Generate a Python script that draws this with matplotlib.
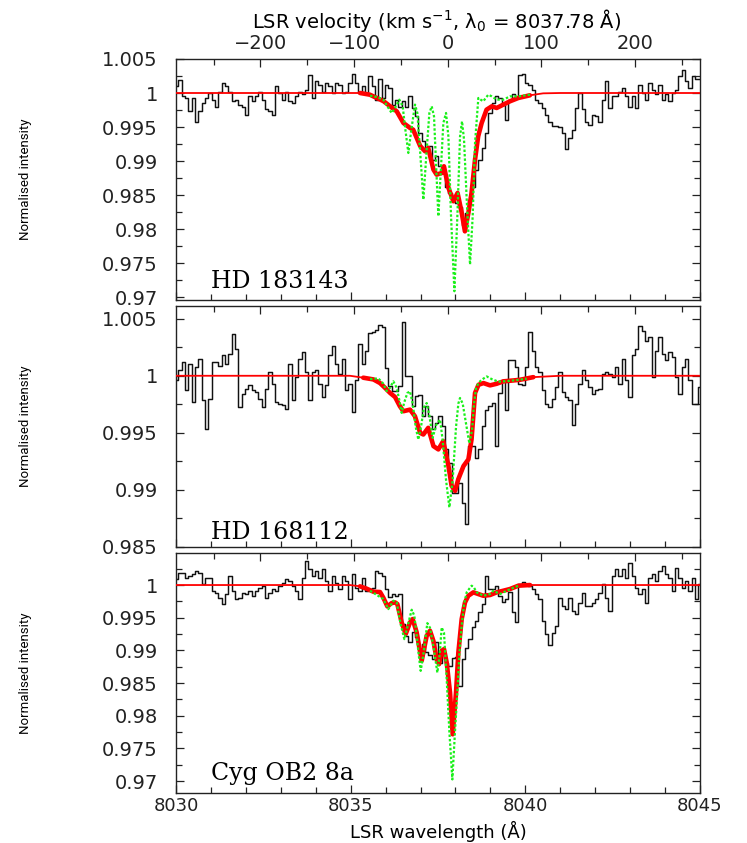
import numpy as np
import matplotlib
matplotlib.use("Agg")
import matplotlib.pyplot as plt
from matplotlib import font_manager as fm
from matplotlib.ticker import MultipleLocator, FuncFormatter, NullFormatter

LAMBDA0 = 8037.78
C_KMS = 299792.458

star_names = ["HD 183143", "HD 168112", "Cyg OB2 8a"]

# ---------------- observed spectra (uniform wavelength bins 8030.02 - 8045.0 A)
obs1 = [1.0010, 1.0019, 0.9995, 0.9993, 0.9973, 0.9993, 0.9958, 0.9973, 0.9985, 0.9993,
        1.0000, 0.9990, 0.9980, 1.0002, 1.0015, 1.0010, 1.0002, 0.9988, 0.9990, 0.9983,
        0.9980, 0.9967, 0.9995, 0.9988, 0.9995, 1.0002, 0.9990, 0.9976, 0.9973, 0.9968,
        1.0011, 1.0000, 0.9990, 1.0002, 0.9988, 0.9985, 0.9995, 1.0001, 0.9998, 1.0005,
        1.0027, 0.9993, 1.0017, 1.0012, 1.0002, 1.0015, 1.0010, 1.0000, 1.0015, 1.0012,
        1.0000, 1.0002, 1.0015, 1.0028, 1.0015, 1.0000, 1.0010, 1.0000, 1.0025, 1.0010,
        0.9990, 1.0020, 0.9993, 1.0012, 1.0007, 0.9983, 0.9990, 0.9980, 0.9988, 0.9980,
        0.9995, 0.9978, 0.9966, 0.9941, 0.9929, 0.9917, 0.9922, 0.9902, 0.9907,
        0.9892, 0.9882, 0.9862, 0.9853, 0.9843, 0.9838, 0.9833, 0.9806, 0.9824, 0.9843,
        0.9862, 0.9887, 0.9902, 0.9919, 0.9941, 0.9971, 0.9985, 0.9995, 0.9993, 0.9983,
        0.9961, 0.9990, 0.9998, 0.9993,
        1.0027, 1.0028, 1.0015, 1.0012, 1.0005, 0.9990, 0.9985, 0.9978, 0.9968, 0.9958,
        0.9952, 0.9952, 0.9950, 0.9941, 0.9917, 0.9934, 0.9946, 0.9978, 1.0000, 0.9976,
        0.9958, 0.9953, 0.9968, 0.9966, 0.9958, 0.9990, 1.0017, 0.9978, 0.9995, 0.9995,
        1.0002, 1.0007, 0.9995, 0.9980, 0.9995, 0.9978, 1.0012, 1.0000, 0.9990, 1.0015,
        1.0005, 0.9998, 1.0012, 0.9990, 0.9998, 0.9988, 1.0000, 1.0005, 1.0025, 1.0034,
        1.0017, 1.0007, 1.0025, 1.0020, 1.0020]

obs2 = [0.99959, 1.00047, 1.00119, 0.99872, 1.00105, 0.99770, 1.00076, 1.00148, 0.99785, 0.99537,
        0.99799, 1.00119, 1.00119, 1.00090, 1.00178, 1.00105, 1.00192, 1.00367, 1.00236, 0.99726,
        0.99843, 0.99887, 0.99916, 0.99872, 0.99857, 0.99799, 0.99726, 0.99887, 1.00032, 0.99930,
        0.99770, 0.99756, 0.99741, 0.99712, 1.00105, 0.99785, 0.99988, 1.00148, 1.00207, 1.00032,
        0.99785, 1.00032, 1.00047, 0.99930, 0.99814, 0.99916, 1.00178, 1.00265, 1.00105, 1.00017,
        1.00148, 0.99872, 0.99930, 0.99683, 0.99959, 1.00279, 1.00105, 1.00221,
        1.00372, 1.00387, 1.00402, 1.00445, 1.00431, 1.00067, 0.99907, 0.99863, 0.99863, 0.99907,
        1.00474, 0.99994, 0.99994, 0.99732, 0.99820, 0.99834, 0.99645, 0.99732, 0.99645, 0.99529,
        0.99587, 0.99645, 0.99558, 0.99354, 0.99238, 0.98976, 0.98976, 0.99063, 0.98888, 0.98699,
        0.99383, 0.99383, 0.99281, 0.99354, 0.99558, 0.99703, 0.99732, 0.99761, 0.99383, 0.99849,
        0.99965, 0.99703, 1.00140, 1.00140, 1.00081,
        0.99930, 0.99916, 1.00076, 1.00381, 1.00221, 1.00076, 1.00032, 0.99872, 0.99756, 0.99726,
        0.99799, 0.99901, 1.00032, 0.99857, 0.99814, 0.99785, 0.99566, 0.99756, 0.99930, 1.00047,
        0.99959, 0.99901, 0.99843, 0.99872, 0.99887, 1.00017, 1.00032, 1.00017, 0.99988, 1.00076,
        0.99930, 1.00148, 0.99959, 0.99814, 1.00178, 1.00236, 1.00439, 1.00396, 1.00308, 1.00337,
        0.99988, 1.00221, 1.00337, 1.00192, 1.00134, 1.00207, 1.00163, 0.99988, 0.99843, 1.00076,
        1.00148, 0.99959, 0.99756, 0.99756, 0.99901]

obs3 = [1.00087, 1.00189, 1.00189, 1.00112, 1.00138, 1.00164, 1.00215, 1.00189, 1.00010, 1.00112,
        1.00112, 0.99908, 0.99882, 0.99806, 0.99704, 0.99857, 1.00138, 0.99908, 0.99780, 0.99806,
        0.99882, 0.99857, 0.99908, 0.99831, 0.99908, 0.99959, 0.99985, 0.99806, 0.99882, 0.99934,
        0.99908, 0.99985, 1.00036, 1.00087, 1.00061, 0.99985, 0.99908, 0.99780, 1.00112, 1.00368,
        1.00240, 1.00138, 1.00215, 1.00112, 1.00240, 1.00061, 0.99908, 1.00138, 1.00036, 0.99934,
        1.00138, 1.00061, 0.99780, 1.00164, 0.99959, 0.99908, 1.00112, 0.99908,
        0.99939, 0.99949, 1.00220, 1.00184, 1.00143, 0.99939, 0.99811, 0.99862, 0.99836, 0.99862,
        0.99402, 0.99223, 0.99121, 0.99274, 0.99198, 0.99019, 0.99096, 0.98968, 0.98927, 0.98866,
        0.99121, 0.98814, 0.98968, 0.98814, 0.98763, 0.98876, 0.98901, 0.98457, 0.98866, 0.99044,
        0.99172, 0.99351, 0.99453, 0.99581, 0.99709, 1.00143, 0.99939, 0.99939, 0.99990, 0.99836,
        0.99734, 0.99785, 0.99888, 0.99581, 0.99428,
        1.00020, 1.00051, 1.00020, 0.99985, 0.99934, 0.99857, 0.99780, 0.99448, 0.99254, 0.99090,
        0.99269, 0.99371, 0.99806, 0.99678, 0.99627, 0.99806, 0.99601, 0.99550, 0.99729, 0.99882,
        0.99678, 0.99678, 0.99729, 0.99780, 0.99882, 1.00010, 0.99806, 0.99601, 1.00138, 1.00240,
        1.00138, 1.00240, 1.00112, 1.00342, 1.00138, 0.99959, 0.99857, 0.99934, 0.99729, 1.00112,
        1.00164, 1.00061, 1.00215, 1.00291, 1.00164, 1.00112, 0.99908, 1.00266, 1.00112, 0.99959,
        1.00061, 0.99908, 1.00112, 0.99780, 1.00010]

# ---------------- convolved model (red)
red1_lam = [8030.0, 8035.27, 8035.55, 8035.94, 8036.32, 8036.51, 8036.70, 8036.79, 8036.99, 8037.13,
            8037.22, 8037.37, 8037.46, 8037.61, 8037.67, 8037.80, 8037.94, 8038.06, 8038.18, 8038.27,
            8038.37, 8038.46, 8038.56, 8038.65, 8038.75, 8038.89, 8039.04, 8039.18, 8039.37, 8039.56,
            8039.80, 8040.13, 8040.51, 8041.0, 8045.0]
red1_val = [1.0, 1.0, 0.99975, 0.9988, 0.9973, 0.99559, 0.99486, 0.9946, 0.9922, 0.99143,
            0.99192, 0.98873, 0.988, 0.98824, 0.98922, 0.98604, 0.98408, 0.9853, 0.98236, 0.97966,
            0.98236, 0.9853, 0.9902, 0.99363, 0.99559, 0.99755, 0.99804, 0.9978, 0.99829, 0.99878,
            0.99927, 0.99966, 0.99995, 1.0, 1.0]

red2_lam = [8030.0, 8034.98, 8035.36, 8035.65, 8035.84, 8035.98, 8036.13, 8036.27, 8036.41, 8036.51,
            8036.70, 8036.84, 8036.99, 8037.08, 8037.22, 8037.37, 8037.51, 8037.65, 8037.80, 8037.89,
            8037.99, 8038.08, 8038.23, 8038.37, 8038.46, 8038.56, 8038.66, 8038.80, 8038.99, 8039.18,
            8039.37, 8039.66, 8039.85, 8040.23, 8041.0, 8045.0]
red2_val = [1.0, 1.0, 0.99983, 0.99968, 0.99936, 0.99895, 0.99849, 0.99814, 0.99732, 0.99689,
            0.99703, 0.99645, 0.99499, 0.99485, 0.99543, 0.99383, 0.99354, 0.99427, 0.99208, 0.99034,
            0.98990, 0.99092, 0.99208, 0.99267, 0.99441, 0.99849, 0.99921, 0.99936, 0.99916, 0.99930,
            0.99951, 0.99959, 0.99965, 0.99988, 1.0, 1.0]

red3_lam = [8030.0, 8034.981, 8035.267, 8035.458, 8035.649, 8035.840, 8035.935, 8036.050, 8036.174, 8036.270,
            8036.336, 8036.460, 8036.575, 8036.699, 8036.775, 8036.890, 8037.033, 8037.176, 8037.271, 8037.367,
            8037.462, 8037.529, 8037.605, 8037.672, 8037.749, 8037.844, 8037.920, 8038.016, 8038.083, 8038.178,
            8038.273, 8038.369, 8038.512, 8038.655, 8038.798, 8038.989, 8039.180, 8039.371, 8039.562, 8039.800,
            8040.134, 8045.0]
red3_val = [1.0, 1.0, 0.99980, 0.99944, 0.99898, 0.99893, 0.99806, 0.99673, 0.99724, 0.99734,
            0.99709, 0.99428, 0.99249, 0.99428, 0.99479, 0.99274, 0.98840, 0.99223, 0.99300, 0.99147,
            0.98866, 0.98789, 0.98993, 0.99019, 0.98814, 0.98355, 0.97716, 0.98355, 0.98968, 0.99479,
            0.99734, 0.99836, 0.99888, 0.99862, 0.99836, 0.99847, 0.99888, 0.99913, 0.99939, 0.99990,
            1.0, 1.0]

# ---------------- intrinsic model (green dotted)
grn1_lam = [8035.554, 8035.745, 8035.935, 8036.050, 8036.174, 8036.270, 8036.394, 8036.489, 8036.566, 8036.651,
            8036.737, 8036.842, 8036.909, 8036.985, 8037.081, 8037.176, 8037.253, 8037.320, 8037.386, 8037.443,
            8037.510, 8037.587, 8037.653, 8037.730, 8037.797, 8037.873, 8037.969, 8038.054, 8038.131, 8038.188,
            8038.245, 8038.322, 8038.417, 8038.493, 8038.560, 8038.655, 8038.722, 8038.798, 8038.865, 8038.941,
            8039.037, 8039.180, 8039.371, 8039.562, 8039.800, 8040.134]
grn1_val = [0.99961, 0.99941, 0.99902, 0.99804, 0.99706, 0.99780, 0.99902, 0.99804, 0.99461, 0.99118,
            0.99461, 0.99829, 0.99706, 0.99167, 0.98432, 0.99167, 0.99706, 0.99804, 0.99657, 0.98971,
            0.98187, 0.98922, 0.99559, 0.99706, 0.99363, 0.98187, 0.97085, 0.98187, 0.99363, 0.99584,
            0.99314, 0.98432, 0.97477, 0.98187, 0.99265, 0.99927, 0.99902, 0.99878, 0.99927, 0.99975,
            0.99951, 0.99902, 0.99902, 0.99951, 0.99951, 0.99975]

grn2_lam = [8035.554, 8035.792, 8035.935, 8036.031, 8036.126, 8036.222, 8036.317, 8036.394, 8036.460, 8036.537,
            8036.623, 8036.699, 8036.775, 8036.861, 8036.937, 8037.014, 8037.100, 8037.176, 8037.252, 8037.348,
            8037.443, 8037.558, 8037.634, 8037.730, 8037.825, 8037.920, 8038.016, 8038.083, 8038.130, 8038.207,
            8038.302, 8038.398, 8038.474, 8038.531, 8038.588, 8038.655, 8038.751, 8038.894, 8039.037, 8039.228,
            8039.466, 8039.753, 8040.039]
grn2_val = [0.99971, 0.99977, 0.99930, 0.99866, 0.99895, 0.99951, 0.99895, 0.99785, 0.99674, 0.99770,
            0.99849, 0.99863, 0.99756, 0.99552, 0.99441, 0.99552, 0.99726, 0.99761, 0.99654, 0.99456,
            0.99566, 0.99616, 0.99435, 0.99086, 0.98845, 0.99086, 0.99552, 0.99756, 0.99805, 0.99756,
            0.99581, 0.99406, 0.99523, 0.99756, 0.99887, 0.99936, 0.99965, 0.99994, 0.99971, 0.99948,
            0.99953, 0.99962, 0.99974]

grn3_lam = [8035.554, 8035.935, 8036.079, 8036.222, 8036.317, 8036.432, 8036.537, 8036.642, 8036.747, 8036.823,
            8036.890, 8036.947, 8037.004, 8037.081, 8037.195, 8037.271, 8037.367, 8037.481, 8037.548, 8037.605,
            8037.672, 8037.749, 8037.825, 8037.911, 8037.987, 8038.054, 8038.111, 8038.178, 8038.245, 8038.321,
            8038.417, 8038.464, 8038.531, 8038.608, 8038.798, 8038.989, 8039.085, 8039.276, 8039.466, 8039.800]
grn3_val = [0.99913, 0.99785, 0.99632, 0.99760, 0.99734, 0.99397, 0.99172, 0.99397, 0.99622, 0.99530,
            0.99223, 0.98937, 0.98687, 0.98937, 0.99417, 0.99346, 0.99070, 0.98661, 0.98937, 0.99351,
            0.99269, 0.98559, 0.97762, 0.97026, 0.97762, 0.98355, 0.98937, 0.99377, 0.99704, 0.99888,
            0.99959, 0.99990, 0.99959, 0.99888, 0.99836, 0.99862, 0.99913, 0.99862, 0.99913, 0.99990]

ylims = [(0.96956, 1.005), (0.98498, 1.00612), (0.96818, 1.00490)]

obs_all = [obs1, obs2, obs3]
red_all = [(red1_lam, red1_val), (red2_lam, red2_val), (red3_lam, red3_val)]
grn_all = [(grn1_lam, grn1_val), (grn2_lam, grn2_val), (grn3_lam, grn3_val)]


def font_available(name):
    try:
        fm.findfont(fm.FontProperties(family=name), fallback_to_default=False)
        return True
    except Exception:
        return False


if font_available("Liberation Sans Narrow"):
    YLAB_FONT = dict(family=["Liberation Sans Narrow", "DejaVu Sans"], fontsize=10.5)
elif font_available("Roboto"):
    YLAB_FONT = dict(family=["Roboto", "DejaVu Sans"], fontsize=9.5)
else:
    YLAB_FONT = dict(family=["DejaVu Sans"], fontsize=8.0)

W, H = 747, 843
fig = plt.figure(figsize=(W / 100, H / 100), dpi=100)

# panel pixel boxes (top, bottom)
boxes = [(59, 300), (306, 547), (553, 793)]
left_px, right_px = 176, 700


def lam2v(lam):
    return C_KMS * (np.asarray(lam) - LAMBDA0) / LAMBDA0


def v2lam(v):
    return LAMBDA0 * (1.0 + np.asarray(v) / C_KMS)


def yfmt(v, pos):
    return f"{v:.3f}".rstrip("0").rstrip(".")


for i in range(3):
    top, bot = boxes[i]
    ax = fig.add_axes([left_px / W, 1 - bot / H, (right_px - left_px) / W, (bot - top) / H])
    obs = np.array(obs_all[i])
    lam = np.linspace(8030.02, 8045.0, len(obs))
    ax.step(lam, obs, where="mid", color="#111111", lw=1.05, zorder=2)

    rl = np.array(red_all[i][0])
    rv = np.array(red_all[i][1])
    ax.plot(rl, rv, color="#ff0000", lw=1.3, zorder=3)
    m = (rl >= 8035.2) & (rl <= 8040.3)
    ax.plot(rl[m], rv[m], color="#ff0000", lw=3.3, zorder=3,
            solid_joinstyle="round", solid_capstyle="round")

    gl, gv = grn_all[i]
    ax.plot(gl, gv, color="#19f019", lw=1.6, linestyle=(0, (1.1, 0.9)), zorder=4)

    ax.set_xlim(8030, 8045)
    ax.set_ylim(*ylims[i])

    ax.xaxis.set_major_locator(MultipleLocator(5))
    ax.xaxis.set_minor_locator(MultipleLocator(1))
    ax.yaxis.set_major_locator(MultipleLocator(0.005))
    ax.yaxis.set_minor_locator(MultipleLocator(0.0025))
    ax.yaxis.set_major_formatter(FuncFormatter(yfmt))

    ax.tick_params(axis="both", which="both", direction="in", colors="#222222",
                   top=False, bottom=True, left=True, right=True)
    ax.tick_params(axis="both", which="major", length=6, width=0.9)
    ax.tick_params(axis="both", which="minor", length=4, width=0.9)
    ax.tick_params(axis="y", which="major", pad=13, labelsize=14)
    ax.tick_params(axis="x", which="major", pad=3, labelsize=13)
    for lab in ax.get_xticklabels() + ax.get_yticklabels():
        lab.set_family("DejaVu Sans")
    if i < 2:
        ax.xaxis.set_major_formatter(NullFormatter())

    for s in ax.spines.values():
        s.set_color("#222222")
        s.set_linewidth(1.0)

    sec = ax.secondary_xaxis("top", functions=(lam2v, v2lam))
    sec.xaxis.set_major_locator(MultipleLocator(100))
    sec.xaxis.set_minor_locator(MultipleLocator(50))
    sec.tick_params(axis="x", which="both", direction="in", colors="#222222")
    sec.tick_params(axis="x", which="major", length=6, width=0.9, pad=4, labelsize=14)
    sec.tick_params(axis="x", which="minor", length=4, width=0.9)
    sec.spines["top"].set_visible(False)
    if i > 0:
        sec.xaxis.set_major_formatter(NullFormatter())

    ax.text(0.067, [0.05, 0.033, 0.054][i], star_names[i], transform=ax.transAxes,
            family="DejaVu Serif", fontsize=17, ha="left", va="baseline", zorder=5)

    fig.text(26 / W, 1 - (top + bot) / 2 / H, "Normalised intensity", rotation=90,
             ha="center", va="center", **YLAB_FONT)

fig.text(437 / W, 1 - 21 / H, "LSR velocity (km s$^{-1}$, λ$_0$ = 8037.78 Å)",
         ha="center", va="center", fontsize=14, family="DejaVu Sans")
fig.text(438 / W, 1 - 831 / H, "LSR wavelength (Å)",
         ha="center", va="center", fontsize=13, family="DejaVu Sans")

fig.savefig("out.png", dpi=100)
